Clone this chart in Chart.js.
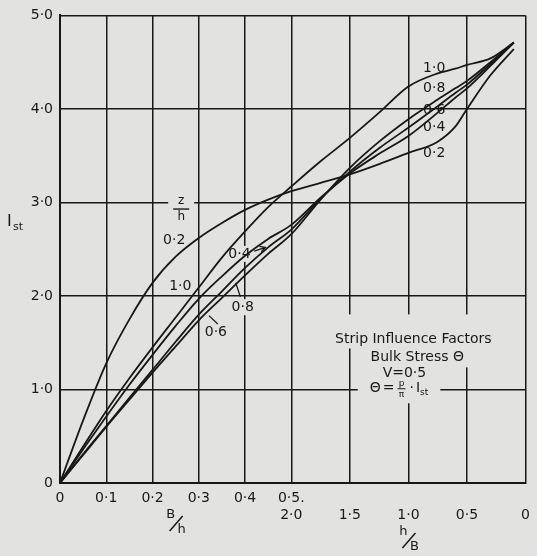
<!DOCTYPE html>
<html lang="en">
<head>
<meta charset="UTF-8">
<title>Strip Influence Factors — Bulk Stress</title>
<script src="https://cdn.jsdelivr.net/npm/chart.js"></script>
<style>
  html, body { margin: 0; padding: 0; background: #e2e2e0; }
</style>
</head>
<body>
<canvas id="chart" width="537" height="556"></canvas>
<script>
// x axis is two scales joined at B/h = 0.5 = h/B 2.0
const bhTicks = [0, 0.1, 0.2, 0.3, 0.4, 0.5];
const hbTicks = [1.5, 1.0, 0.5, 0];
const xTickLabels = ['0', '0·1', '0·2', '0·3', '0·4', ['0·5.', '2·0'], ['', '1·5'], ['', '1·0'], ['', '0·5'], ['', '0']];
const yTicks = [0, 1, 2, 3, 4, 5];
const yTickLabels = ['0', '1·0', '2·0', '3·0', '4·0', '5·0'];

// sample points along each half
const bh = [0, 0.05, 0.1, 0.15, 0.2, 0.25, 0.3, 0.35, 0.4, 0.45, 0.5];
const hb = [1.75, 1.5, 1.25, 1.0, 0.75, 0.6, 0.5, 0.3, 0.1];

const zh = ['0·2', '0·4', '0·6', '0·8', '1·0'];

// Ist, L = against B/h, R = against h/B
const ist02L = [0, 0.67, 1.28, 1.75, 2.14, 2.42, 2.62, 2.78, 2.92, 3.03, 3.12];
const ist02R = [3.21, 3.30, 3.41, 3.53, 3.65, 3.81, 4.00, 4.36, 4.64];
const ist04L = [0, 0.36, 0.71, 1.05, 1.37, 1.68, 1.97, 2.21, 2.43, 2.61, 2.76];
const ist04R = [3.05, 3.31, 3.52, 3.71, 3.96, 4.12, 4.22, 4.46, 4.71];
const ist06L = [0, 0.31, 0.61, 0.91, 1.21, 1.51, 1.80, 2.05, 2.30, 2.52, 2.71];
const ist06R = [3.04, 3.33, 3.58, 3.80, 4.03, 4.17, 4.26, 4.48, 4.71];
const ist08L = [0, 0.30, 0.60, 0.89, 1.18, 1.46, 1.74, 1.98, 2.22, 2.45, 2.66];
const ist08R = [3.03, 3.37, 3.65, 3.89, 4.10, 4.22, 4.30, 4.50, 4.71];
const ist10L = [0, 0.39, 0.77, 1.12, 1.45, 1.77, 2.09, 2.41, 2.69, 2.95, 3.17];
const ist10R = [3.44, 3.69, 3.96, 4.24, 4.38, 4.43, 4.47, 4.54, 4.71];

const FONT = '"DejaVu Sans", sans-serif';
const PAPER = '#e2e2e0';
const INK = '#181818';
const WIDE = 59 / 46.6; // a 0.5 step of h/B is drawn wider than a 0.1 step of B/h

function posBh(v) { return v * 10; }
function posHb(v) { return 5 + (2 - v) * 2 * WIDE; }

function curve(left, right) {
  return bh.map((v, i) => ({x: posBh(v), y: left[i]}))
    .concat(hb.map((v, i) => ({x: posHb(v), y: right[i]})));
}

const xTickPos = bhTicks.map(posBh).concat(hbTicks.map(posHb));
const series = [[ist02L, ist02R], [ist04L, ist04R], [ist06L, ist06R], [ist08L, ist08R], [ist10L, ist10R]];

// curve labels, placed in axis units
const curveLabels = [
  {t: '0·2', x: posBh(0.247), y: 2.59, box: true},
  {t: '1·0', x: posBh(0.26), y: 2.10, box: true},
  {t: '0·4', x: posBh(0.388), y: 2.45, box: true},
  {t: '0·8', x: posBh(0.395), y: 1.88, box: true},
  {t: '0·6', x: posBh(0.337), y: 1.61, box: true},
  {t: '1·0', x: posHb(0.78), y: 4.43},
  {t: '0·8', x: posHb(0.78), y: 4.22},
  {t: '0·6', x: posHb(0.78), y: 3.98},
  {t: '0·4', x: posHb(0.78), y: 3.80},
  {t: '0·2', x: posHb(0.78), y: 3.52}
];
const leaders = [
  {a: [posBh(0.42), 2.48], b: [posBh(0.444), 2.52], arrow: true},
  {a: [posBh(0.390), 1.99], b: [posBh(0.380), 2.14]},
  {a: [posBh(0.341), 1.70], b: [posBh(0.322), 1.79]}
];
const noteLines = [
  {t: 'Strip Influence Factors', x: posHb(0.958), y: 1.535},
  {t: 'Bulk Stress Θ', x: posHb(0.924), y: 1.343},
  {t: 'V=0·5', x: posHb(1.034), y: 1.173}
];

const paper = {
  id: 'paper',
  beforeDraw(chart) {
    const ctx = chart.ctx;
    ctx.save();
    ctx.fillStyle = PAPER;
    ctx.fillRect(0, 0, chart.width, chart.height);
    ctx.restore();
  }
};

function clearBox(ctx, cx, cy, w, h) {
  ctx.fillStyle = PAPER;
  ctx.fillRect(cx - w / 2, cy - h / 2, w, h);
  ctx.fillStyle = INK;
}

const notes = {
  id: 'notes',
  beforeDatasetsDraw(chart) {
    const {ctx, scales: {x, y}} = chart;
    ctx.save();
    ctx.fillStyle = INK;
    ctx.strokeStyle = INK;
    ctx.textAlign = 'center';
    ctx.textBaseline = 'middle';

    ctx.font = '14px ' + FONT;
    curveLabels.forEach(l => {
      const px = x.getPixelForValue(l.x), py = y.getPixelForValue(l.y);
      if (l.box) clearBox(ctx, px, py, ctx.measureText(l.t).width + 8, 16);
      ctx.fillText(l.t, px, py);
    });

    ctx.lineWidth = 1.3;
    leaders.forEach(l => {
      const ax = x.getPixelForValue(l.a[0]), ay = y.getPixelForValue(l.a[1]);
      const bx = x.getPixelForValue(l.b[0]), by = y.getPixelForValue(l.b[1]);
      ctx.beginPath();
      ctx.moveTo(ax, ay);
      ctx.lineTo(bx, by);
      if (l.arrow) {
        const ang = Math.atan2(by - ay, bx - ax);
        ctx.moveTo(bx - 6 * Math.cos(ang - 0.5), by - 6 * Math.sin(ang - 0.5));
        ctx.lineTo(bx, by);
        ctx.lineTo(bx - 6 * Math.cos(ang + 0.5), by - 6 * Math.sin(ang + 0.5));
      }
      ctx.stroke();
    });

    // z/h heading of the curve labels
    const zx = x.getPixelForValue(posBh(0.262));
    const zy = y.getPixelForValue(2.94);
    clearBox(ctx, zx, zy - 4, 26, 26);
    ctx.font = '12px ' + FONT;
    ctx.fillText('z', zx, zy - 7);
    ctx.fillText('h', zx, zy + 9);
    ctx.lineWidth = 1.4;
    ctx.beginPath();
    ctx.moveTo(zx - 8, zy + 1);
    ctx.lineTo(zx + 8, zy + 1);
    ctx.stroke();

    // note block
    ctx.font = '14px ' + FONT;
    noteLines.forEach((l, i) => {
      const px = x.getPixelForValue(l.x), py = y.getPixelForValue(l.y);
      const w = ctx.measureText(l.t).width + 16;
      clearBox(ctx, px, py - (i === 0 ? 8 : 0), w, i === 0 ? 34 : 20);
      ctx.fillText(l.t, px, py);
    });

    // Θ = p/π · Ist
    const fx = x.getPixelForValue(posHb(1.33));
    const fy = y.getPixelForValue(1.013);
    ctx.font = '14px ' + FONT;
    const wTh = ctx.measureText('Θ').width, wEq = ctx.measureText('=').width, wDot = ctx.measureText('·').width;
    const wI = ctx.measureText('I').width;
    ctx.font = '9px ' + FONT;
    const wSt = ctx.measureText('st').width;
    const total = wTh + 2 + wEq + 3 + 12 + wDot + 2 + wI + wSt;
    clearBox(ctx, fx + total / 2, fy + 2, total + 24, 26);
    ctx.textAlign = 'left';
    let cx = fx;
    ctx.font = '14px ' + FONT;
    ctx.fillText('Θ', cx, fy); cx += wTh + 2;
    ctx.fillText('=', cx, fy); cx += wEq + 3;
    ctx.font = '9px ' + FONT;
    ctx.textAlign = 'center';
    ctx.fillText('p', cx + 4, fy - 5);
    ctx.fillText('π', cx + 4, fy + 6);
    ctx.lineWidth = 1;
    ctx.beginPath();
    ctx.moveTo(cx, fy + 0.5);
    ctx.lineTo(cx + 8, fy + 0.5);
    ctx.stroke();
    cx += 12;
    ctx.textAlign = 'left';
    ctx.font = '14px ' + FONT;
    ctx.fillText('·', cx, fy); cx += wDot + 2;
    ctx.fillText('I', cx, fy); cx += wI;
    ctx.font = '9px ' + FONT;
    ctx.fillText('st', cx, fy + 4);
    ctx.restore();
  }
};

const titles = {
  id: 'titles',
  afterDraw(chart) {
    const {ctx, scales: {x, y}} = chart;
    ctx.save();
    ctx.fillStyle = INK;
    ctx.strokeStyle = INK;
    ctx.textBaseline = 'middle';
    ctx.textAlign = 'left';

    // Ist beside the y axis
    const iy = y.getPixelForValue(2.79);
    ctx.font = '16px ' + FONT;
    ctx.fillText('I', 7, iy);
    ctx.font = '11px ' + FONT;
    ctx.fillText('st', 13, iy + 5);

    // slashed fractions under the two halves of the x axis
    ctx.textAlign = 'center';
    ctx.font = '13px ' + FONT;
    ctx.lineWidth = 1.5;
    const fracs = [
      {top: 'B', bottom: 'h', at: posBh(0.25), y: 515},
      {top: 'h', bottom: 'B', at: posHb(1.0), y: 532}
    ];
    fracs.forEach(f => {
      const px = x.getPixelForValue(f.at);
      ctx.fillText(f.top, px - 5, f.y);
      ctx.fillText(f.bottom, px + 6, f.y + 15);
      ctx.beginPath();
      ctx.moveTo(px - 6, f.y + 16);
      ctx.lineTo(px + 7, f.y + 1);
      ctx.stroke();
    });
    ctx.restore();
  }
};

new Chart(document.getElementById('chart'), {
  type: 'scatter',
  data: {
    datasets: zh.map((z, i) => ({
      label: 'z/h = ' + z,
      data: curve(series[i][0], series[i][1]),
      showLine: true,
      borderColor: INK,
      borderWidth: 1.8,
      pointRadius: 0,
      cubicInterpolationMode: 'monotone'
    }))
  },
  options: {
    responsive: false,
    animation: false,
    layout: {padding: {top: 14, right: 8, left: 0, bottom: 0}},
    plugins: {legend: {display: false}, tooltip: {enabled: false}},
    scales: {
      x: {
        type: 'linear',
        min: 0,
        max: posHb(0),
        afterBuildTicks: s => { s.ticks = xTickPos.map(v => ({value: v})); },
        afterFit: s => { s.height = 73; },
        grid: {color: INK, lineWidth: 1.5, drawTicks: false},
        border: {color: INK, width: 2},
        ticks: {
          autoSkip: false, maxRotation: 0, padding: 7, color: INK,
          font: {family: FONT, size: 14},
          callback: (v, i) => xTickLabels[i]
        }
      },
      y: {
        min: 0,
        max: 5,
        afterBuildTicks: s => { s.ticks = yTicks.map(v => ({value: v})); },
        afterFit: s => { s.width = 60; },
        grid: {color: INK, lineWidth: 1.5, drawTicks: false},
        border: {color: INK, width: 2},
        ticks: {
          padding: 7, color: INK,
          font: {family: FONT, size: 14},
          callback: (v, i) => yTickLabels[i]
        }
      }
    }
  },
  plugins: [paper, notes, titles]
});
</script>
</body>
</html>
